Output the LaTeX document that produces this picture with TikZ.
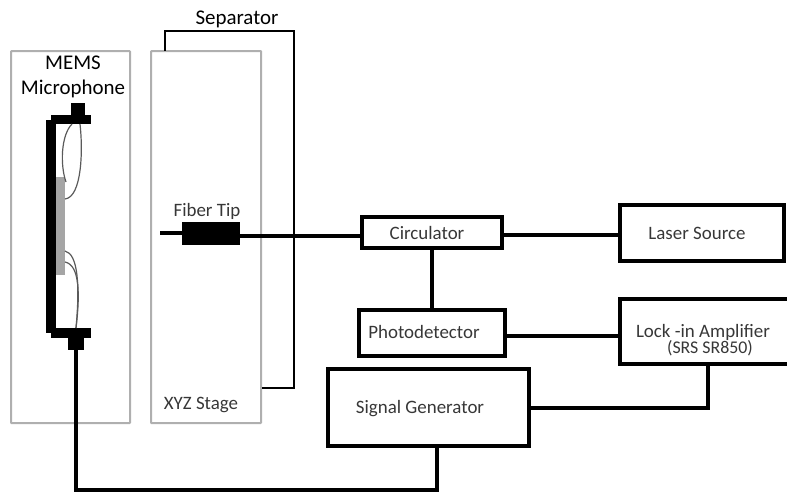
\documentclass[tikz,border=0pt]{standalone}
\usepackage{fontspec}
\setmainfont{Carlito}
\tikzset{
  stagebox/.style={draw=boxgray, line width=1.5pt, rounded corners=0.5pt, inner sep=0pt, minimum height=279pt},
  blockbox/.style={draw=black, line width=3pt, inner sep=0pt},
  wire/.style={draw=black, line width=3pt},
  thinwire/.style={draw=black, line width=1.1pt},
  bondwire/.style={draw=wiregray, line width=0.9pt},
  mount/.style={fill=black, inner sep=0pt},
  blocklabel/.style={text=labelgray, font=\fontsize{14.2}{16}\selectfont},
  toplabel/.style={text=black, font=\fontsize{15.7}{18.8}\selectfont},
}
\definecolor{boxgray}{RGB}{175,175,175}
\definecolor{wiregray}{RGB}{90,90,90}
\definecolor{labelgray}{RGB}{55,55,55}
\definecolor{chipgray}{RGB}{165,165,165}
\begin{document}
\begin{tikzpicture}[x=0.75pt, y=-0.75pt, every node/.style={align=center}]
  \useasboundingbox (0, 0) rectangle (787, 493);

  % Holders
  \node[stagebox, minimum width=89.25pt] (micholder) at (70.5, 237) {};
  \node[stagebox, minimum width=82.5pt] (xyzstage) at (206, 237) {};
  \node[toplabel] (memslabel) at (73, 77) {MEMS\\Microphone};
  \node[blocklabel] (xyzlabel) at (201, 405) {XYZ Stage};

  % Separator
  \coordinate (sepstart) at (165, 50.5);
  \coordinate (sepleft) at (165, 31);
  \coordinate (sepright) at (294, 31);
  \coordinate (sepend) at (261.5, 388);
  \draw[thinwire] (sepstart) -- (sepleft) -- (sepright) |- (sepend);
  \node[toplabel] (seplabel) at (237, 19) {Separator};

  % Microphone body
  \fill[chipgray] (56, 177) rectangle (65, 275);
  \fill[black] (46, 120) rectangle (56, 333);
  \node[mount, minimum width=30pt, minimum height=7pt] (topbar) at (71, 119.5) {};
  \node[mount, minimum width=10.5pt, minimum height=9pt] (topcap) at (78, 109) {};
  \node[mount, minimum width=30pt, minimum height=7.5pt] (lowbar) at (71, 333) {};
  \node[mount, minimum width=12pt, minimum height=9pt] (lowcap) at (76, 344) {};

  % Bond wires
  \draw[bondwire] (72, 124) .. controls (61, 135) and (60, 165) .. (66, 182);
  \draw[bondwire] (80, 124) .. controls (83, 150) and (82, 197) .. (65, 199);
  \draw[bondwire] (65, 251) .. controls (78, 254) and (80, 285) .. (76, 328);
  \draw[bondwire] (65, 262) .. controls (80, 265) and (80, 295) .. (76, 328);

  % Fiber
  \node[mount, minimum width=43.5pt, minimum height=17pt] (fibertip) at (211, 233.5) {};
  \node[blocklabel] (fiberlabel) at (207, 211) {Fiber Tip};
  \coordinate (fiberend) at (160, 233);
  \draw[wire] (fiberend) -- (fibertip.west |- fiberend);

  % Blocks
  \node[blockbox, minimum width=105pt, minimum height=23.25pt] (circulator) at (432, 232.5) {};
  \node[blockbox, minimum width=123pt, minimum height=42pt] (laser) at (702, 233) {};
  \node[blockbox, minimum width=109pt, minimum height=35pt] (photo) at (432, 333) {};
  \node[blockbox, minimum width=131.25pt, minimum height=48.75pt] (lockin) at (707.5, 331.5) {};
  \node[blockbox, minimum width=150.75pt, minimum height=57.75pt] (siggen) at (428.5, 407.5) {};

  % Block labels
  \node[blocklabel] (circlabel) at (427, 233) {Circulator};
  \node[blocklabel] (laserlabel) at (697, 233) {Laser Source};
  \node[blocklabel] (photolabel) at (424, 332) {Photodetector};
  \node[blocklabel] (locklabel) at (703, 332) {Lock -in Amplifier};
  \node[blocklabel, font=\fontsize{13.4}{15}\selectfont] (srslabel) at (710, 348) {(SRS SR850)};
  \node[blocklabel] (siglabel) at (420, 409) {Signal Generator};

  % Connections
  \draw[wire] ([yshift=-1.5pt]fibertip.east) -- ([yshift=-1.5pt]fibertip.east -| circulator.west);
  \draw[wire] ([yshift=-1.9pt]circulator.east) -- ([yshift=-1.9pt]circulator.east -| laser.west);
  \draw[wire] (circulator.south) -- (photo.north);
  \draw[wire] ([yshift=-2.2pt]photo.east) -- ([yshift=-2.2pt]photo.east -| lockin.west);
  \draw[wire] (lockin.south) |- (siggen.east);
  \coordinate (bottomrun) at (76, 490);
  \draw[wire] ([xshift=6.4pt]siggen.south) |- (bottomrun) -- (lowcap.south);
\end{tikzpicture}
\end{document}
